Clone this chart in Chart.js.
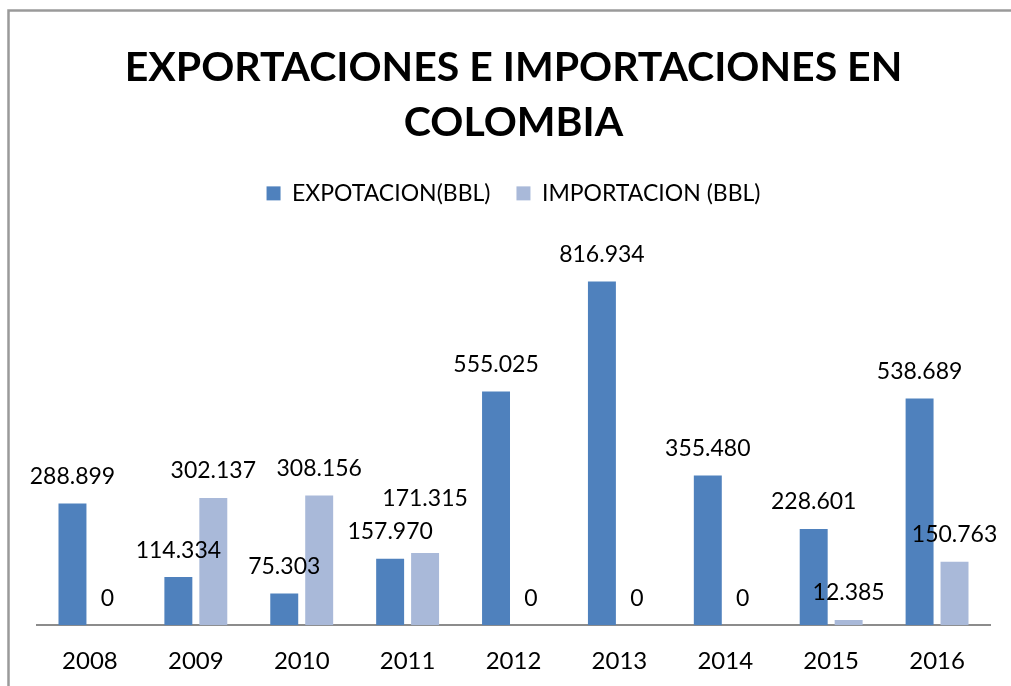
<!DOCTYPE html>
<html>
<head>
<meta charset="utf-8">
<script src="https://cdn.jsdelivr.net/npm/chart.js@4/dist/chart.umd.min.js"></script>
<style>
  html, body { margin: 0; padding: 0; background: #fff; }
  #wrap { width: 1011px; height: 686px; }
</style>
</head>
<body>
<div id="wrap"><canvas id="myChart"></canvas></div>
<script>
// Barrels per year
const years = ["2008", "2009", "2010", "2011", "2012", "2013", "2014", "2015", "2016"];
const exportBbl = [288899, 114334, 75303, 157970, 555025, 816934, 355480, 228601, 538689];
const importBbl = [0, 302137, 308156, 171315, 0, 0, 0, 12385, 150763];

const FONT = "Lato, 'Noto Sans', sans-serif";

// 288899 -> "288.899"
function fmt(v) {
  return String(v).replace(/\B(?=(\d{3})+(?!\d))/g, ".");
}

// grey frame along the top and left edge
const framePlugin = {
  id: "frame",
  beforeDraw(chart) {
    const c = chart.ctx;
    c.save();
    c.strokeStyle = "#9a9a9a";
    c.lineWidth = 2.5;
    c.beginPath();
    c.moveTo(8.5, chart.height + 5);
    c.lineTo(8.5, 10.5);
    c.lineTo(chart.width + 5, 10.5);
    c.stroke();
    c.restore();
  },
};

// value labels above each bar, pushed up when two overlap
const valueLabels = {
  id: "valueLabels",
  afterDatasetsDraw(chart) {
    const c = chart.ctx;
    c.save();
    c.font = "23px " + FONT;
    c.fillStyle = "#000";
    c.textAlign = "center";
    c.textBaseline = "middle";
    const placed = [];
    chart.data.datasets.forEach((ds, i) => {
      chart.getDatasetMeta(i).data.forEach((bar, j) => {
        const text = fmt(ds.data[j]);
        const w = c.measureText(text).width;
        let y = bar.y - 27;
        placed.forEach((p) => {
          const hitX = Math.abs(p.x - bar.x) < (p.w + w) / 2;
          const hitY = Math.abs(p.y - y) < 24;
          if (hitX && hitY) y = p.y - 33;
        });
        placed.push({ x: bar.x, y: y, w: w });
        c.fillText(text, bar.x, y);
      });
    });
    c.restore();
  },
};

let ctx = document.getElementById("myChart").getContext("2d");

let myChart = new Chart(ctx, {
  type: "bar",
  data: {
    labels: years,
    datasets: [
      {
        label: "EXPOTACION(BBL)",
        data: exportBbl,
        backgroundColor: "#4F81BD",
      },
      {
        label: "IMPORTACION (BBL)",
        data: importBbl,
        backgroundColor: "#A9B9D9",
      },
    ],
  },
  options: {
    responsive: true,
    maintainAspectRatio: false,
    animation: false,
    categoryPercentage: 0.66,
    barPercentage: 0.8,
    layout: {
      padding: { left: 37, right: 21, top: 0, bottom: -12 },
    },
    plugins: {
      title: {
        display: true,
        text: ["EXPORTACIONES E IMPORTACIONES EN", "COLOMBIA"],
        color: "#000",
        font: { family: FONT, size: 41, weight: "bold", lineHeight: 1.34 },
        padding: { top: 40, bottom: 6 },
      },
      legend: {
        display: true,
        labels: {
          color: "#000",
          font: { family: FONT, size: 23 },
          boxWidth: 14,
          boxHeight: 14,
          padding: 26,
        },
      },
      tooltip: { enabled: false },
    },
    scales: {
      x: {
        grid: { display: false, drawTicks: false },
        border: { display: true, color: "#8c8c8c", width: 2 },
        ticks: {
          color: "#000",
          font: { family: FONT, size: 24 },
          padding: 22,
        },
      },
      y: {
        display: false,
        min: 0,
        max: 975000,
      },
    },
  },
  plugins: [framePlugin, valueLabels],
});
</script>
</body>
</html>
